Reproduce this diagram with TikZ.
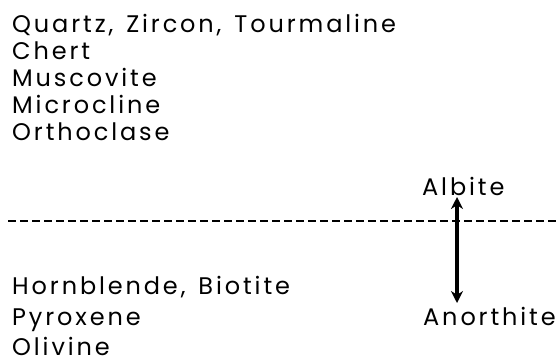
\documentclass[tikz,border=0pt]{standalone}
\usepackage{fontspec}
\setmainfont[LetterSpace=12, WordSpace=1.4]{Poppins}
\usetikzlibrary{arrows.meta}
\tikzset{
  mineral/.style={anchor=base west, inner sep=0pt, font=\fontsize{24}{24}\selectfont},
  series/.style={line width=4pt, {Stealth[length=12pt,width=12pt]}-{Stealth[length=12pt,width=12pt]}}
}
\begin{document}
\begin{tikzpicture}[x=1pt, y=-1pt]
  \useasboundingbox (0,0) rectangle (559,362);
  \draw
    (12,32) node[mineral] (quartz){Quartz, Zircon, Tourmaline}
    (12,59) node[mineral] (chert){Chert}
    (12,86) node[mineral] (muscovite){Muscovite}
    (12,113) node[mineral] (microcline){Microcline}
    (12,140) node[mineral] (orthoclase){Orthoclase}
    (422,195) node[mineral] (albite){Albite}
    (12,294) node[mineral] (hornblende){Hornblende, Biotite}
    (12,325) node[mineral] (pyroxene){Pyroxene}
    (12,355) node[mineral] (olivine){Olivine}
    (423,325) node[mineral] (anorthite){Anorthite};
  \coordinate (lineL) at (8,221);
  \coordinate (lineR) at (559,221);
  \draw[line width=2pt, dash pattern=on 8pt off 4pt] (lineL) -- (lineR);
  \coordinate (top) at (457,197);
  \coordinate (bot) at (457,303);
  \draw[series] (top) -- (bot);
\end{tikzpicture}
\end{document}
